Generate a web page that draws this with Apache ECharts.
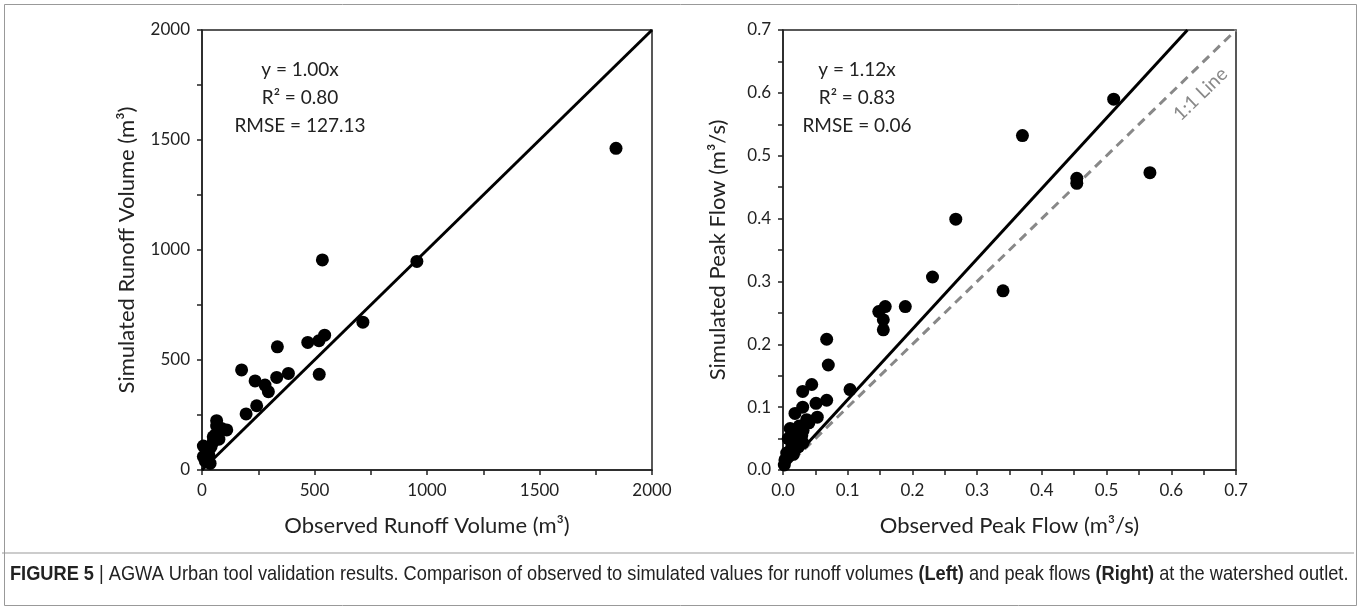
<!DOCTYPE html>
<html>
<head>
<meta charset="utf-8">
<script src="https://cdn.jsdelivr.net/npm/echarts@6/dist/echarts.min.js"></script>
<style>
  html, body { margin: 0; padding: 0; background: #fff; }
  #chart { width: 1357px; height: 606px; }
</style>
</head>
<body>
<div id="chart"></div>
<script>
// left panel: runoff volume (m3)
var volObserved = [1840, 955, 535, 715, 545, 520, 470, 335, 521, 384, 332, 176, 236, 280, 295, 243, 196,
  65, 110, 65, 87, 50, 50, 40, 6, 6, 28, 36, 60, 15, 30, 75, 20];
var volSimulated = [1462, 948, 955, 672, 613, 588, 580, 560, 435, 439, 421, 455, 405, 386, 356, 292, 255,
  224, 182, 200, 189, 151, 129, 105, 109, 61, 91, 30, 160, 40, 70, 140, 55];
// right panel: peak flow (m3/s)
var peakObserved = [0.511, 0.454, 0.454, 0.567, 0.370, 0.267, 0.231, 0.340, 0.189, 0.158, 0.148, 0.155, 0.155,
  0.0675, 0.070, 0.1036, 0.0444, 0.0304, 0.0675, 0.051, 0.0304, 0.0185, 0.053, 0.011, 0.0366, 0.031, 0.021,
  0.016, 0.029, 0.0134, 0.0057, 0.003, 0.002, 0.024, 0.031, 0.008, 0.016, 0.025, 0.040, 0.012, 0.020];
var peakSimulated = [0.590, 0.464, 0.456, 0.473, 0.532, 0.399, 0.307, 0.285, 0.260, 0.260, 0.252, 0.239, 0.223,
  0.208, 0.167, 0.128, 0.136, 0.125, 0.111, 0.106, 0.100, 0.090, 0.084, 0.066, 0.080, 0.063, 0.053,
  0.048, 0.055, 0.037, 0.027, 0.016, 0.008, 0.037, 0.043, 0.050, 0.025, 0.070, 0.075, 0.030, 0.060];

var volSlope = 1.00;
var peakSlope = 1.12;
var volMax = 2000;
var peakMax = 0.7;

function pairs(xs, ys) {
  return xs.map(function (x, i) { return [x, ys[i]]; });
}

var font = 'Lato';
var capFont = '"Liberation Sans", Arial, sans-serif';
var chart = echarts.init(document.getElementById('chart'));

function axisCommon(extra) {
  var base = {
    type: 'value',
    splitLine: { show: false },
    axisLine: { show: true, onZero: false, lineStyle: { color: '#222', width: 1.5 } },
    axisTick: { show: true, inside: false, length: 5, lineStyle: { color: '#222', width: 1.5 } },
    axisLabel: { color: '#222', fontSize: 17, fontFamily: font },
    nameLocation: 'middle',
    nameTextStyle: { color: '#222', fontSize: 22, fontFamily: font }
  };
  return Object.assign(base, extra);
}

chart.setOption({
  animation: false,
  backgroundColor: '#fff',
  grid: [
    { left: 202, top: 30, width: 450, height: 440, show: true, borderColor: '#222', borderWidth: 1.5, backgroundColor: 'transparent' },
    { left: 783, top: 30, width: 453, height: 440, show: true, borderColor: '#222', borderWidth: 1.5, backgroundColor: 'transparent' }
  ],
  xAxis: [
    axisCommon({
      gridIndex: 0, min: 0, max: volMax, interval: 250,
      name: 'Observed Runoff Volume (m³)', nameGap: 45,
      axisLabel: { color: '#222', fontSize: 17, fontFamily: font, margin: 12,
        formatter: function (v) { return v % 500 === 0 ? String(v) : ''; } }
    }),
    axisCommon({
      gridIndex: 1, min: 0, max: peakMax, interval: 0.05,
      name: 'Observed Peak Flow (m³/s)', nameGap: 45,
      axisLabel: { color: '#222', fontSize: 17, fontFamily: font, margin: 12,
        formatter: function (v) { return Math.round(v * 100) % 10 === 0 ? v.toFixed(1) : ''; } }
    })
  ],
  yAxis: [
    axisCommon({
      gridIndex: 0, min: 0, max: volMax, interval: 250,
      name: 'Simulated Runoff Volume (m³)', nameGap: 64,
      axisLabel: { color: '#222', fontSize: 17, fontFamily: font, margin: 12,
        formatter: function (v) { return v % 500 === 0 ? String(v) : ''; } }
    }),
    axisCommon({
      gridIndex: 1, min: 0, max: peakMax, interval: 0.05,
      name: 'Simulated Peak Flow (m³/s)', nameGap: 54,
      axisLabel: { color: '#222', fontSize: 17, fontFamily: font, margin: 12,
        formatter: function (v) { return Math.round(v * 100) % 10 === 0 ? v.toFixed(1) : ''; } }
    })
  ],
  series: [
    {
      type: 'line', xAxisIndex: 0, yAxisIndex: 0, symbol: 'none', silent: true,
      lineStyle: { color: '#000', width: 3 },
      data: [[0, 0], [volMax / volSlope, volMax]], z: 3
    },
    {
      type: 'scatter', xAxisIndex: 0, yAxisIndex: 0, symbol: 'circle', symbolSize: 13,
      itemStyle: { color: '#000', opacity: 1 },
      data: pairs(volObserved, volSimulated), z: 4
    },
    {
      type: 'line', xAxisIndex: 1, yAxisIndex: 1, symbol: 'none', silent: true,
      lineStyle: { color: '#888', width: 3, type: [9, 6] },
      data: [[0, 0], [peakMax, peakMax]], z: 2,
      markPoint: {
        symbol: 'circle', symbolSize: 0, silent: true,
        label: { show: true, formatter: '1:1 Line', color: '#888', fontSize: 19, fontFamily: font, rotate: 44 },
        data: [{ coord: [0.645, 0.598] }]
      }
    },
    {
      type: 'line', xAxisIndex: 1, yAxisIndex: 1, symbol: 'none', silent: true,
      lineStyle: { color: '#000', width: 3 },
      data: [[0, 0], [peakMax / peakSlope, peakMax]], z: 3
    },
    {
      type: 'scatter', xAxisIndex: 1, yAxisIndex: 1, symbol: 'circle', symbolSize: 13,
      itemStyle: { color: '#000', opacity: 1 },
      data: pairs(peakObserved, peakSimulated), z: 4
    }
  ],
  graphic: [
    { type: 'rect', left: 2, top: 2, silent: true, shape: { width: 1352, height: 601 },
      style: { fill: 'none', stroke: '#999', lineWidth: 1 } },
    { type: 'line', silent: true, shape: { x1: 2, y1: 553, x2: 1354, y2: 553 },
      style: { stroke: '#999', lineWidth: 1 } },
    { type: 'text', x: 300, y: 56, silent: true,
      style: { text: 'y = 1.00x\nR² = 0.80\nRMSE = 127.13', align: 'center', lineHeight: 28,
        font: '19px Lato', fill: '#222' } },
    { type: 'text', x: 857, y: 56, silent: true,
      style: { text: 'y = 1.12x\nR² = 0.83\nRMSE = 0.06', align: 'center', lineHeight: 28,
        font: '19px Lato', fill: '#222' } },
    { type: 'text', x: 10, y: 564, scaleX: 0.867, silent: true,
      style: {
        text: '{b|FIGURE 5} | AGWA Urban tool validation results. Comparison of observed to simulated values for runoff volumes {b|(Left)} and peak flows {b|(Right)} at the watershed outlet.',
        font: '21px ' + capFont, fill: '#222',
        rich: { b: { fontWeight: 'bold', fontFamily: capFont, fontSize: 21, fill: '#222' } }
      } }
  ]
});
</script>
</body>
</html>
